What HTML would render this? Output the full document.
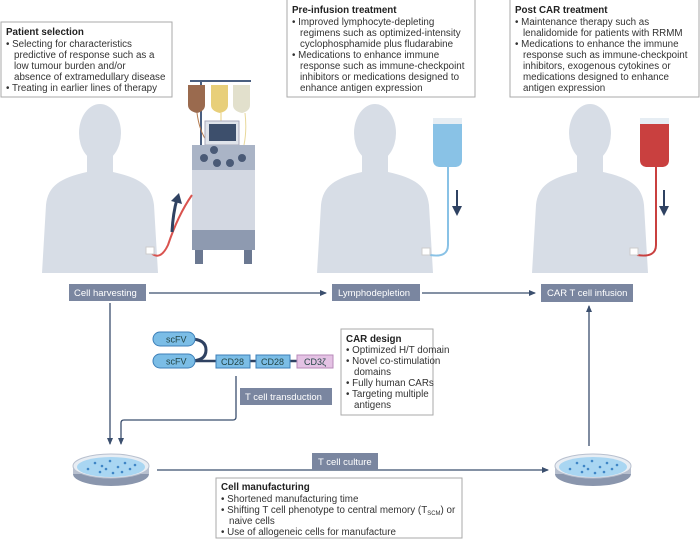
<!DOCTYPE html>
<html><head><meta charset="utf-8"><style>
html,body{margin:0;padding:0;background:#fff;}
svg{display:block;font-family:"Liberation Sans",sans-serif;}
.t{font-size:9.8px;fill:#333;}
.b{font-size:9.8px;font-weight:bold;fill:#222;}
.lbl{font-size:9.5px;fill:#fff;}
</style></head><body>
<svg width="700" height="539" viewBox="0 0 700 539" xmlns="http://www.w3.org/2000/svg">
<defs>
<marker id="ah" markerWidth="8" markerHeight="8" refX="6" refY="3" orient="auto" markerUnits="userSpaceOnUse"><path d="M0,0 L7,3 L0,6 Z" fill="#3b4f6e"/></marker>
<g id="person">
<ellipse cx="0" cy="133" rx="21" ry="29" fill="#d7dde6"/>
<path d="M-13 155 L-13 172 C-40 178 -52 186 -54 205 L-58 273 L58 273 L54 205 C52 186 40 178 13 172 L13 155 Z" fill="#d7dde6"/>
</g>
</defs>
<use href="#person" x="100" y="0"/>
<use href="#person" x="375" y="0"/>
<use href="#person" x="590" y="0"/>

<rect x="1" y="22" width="171" height="75" fill="#fff" stroke="#aaa"/>
<text class="b" x="6" y="35">Patient selection</text>
<text class="t" x="6" y="47">• Selecting for characteristics</text>
<text class="t" x="14" y="58">predictive of response such as a</text>
<text class="t" x="14" y="69">low tumour burden and/or</text>
<text class="t" x="14" y="80">absence of extramedullary disease</text>
<text class="t" x="6" y="91">• Treating in earlier lines of therapy</text>

<rect x="287" y="-1" width="188" height="98" fill="#fff" stroke="#aaa"/>
<text class="b" x="292" y="13">Pre-infusion treatment</text>
<text class="t" x="292" y="25">• Improved lymphocyte-depleting</text>
<text class="t" x="300" y="36">regimens such as optimized-intensity</text>
<text class="t" x="300" y="47">cyclophosphamide plus fludarabine</text>
<text class="t" x="292" y="58">• Medications to enhance immune</text>
<text class="t" x="300" y="69">response such as immune-checkpoint</text>
<text class="t" x="300" y="80">inhibitors or medications designed to</text>
<text class="t" x="300" y="91">enhance antigen expression</text>

<rect x="510" y="-1" width="189" height="98" fill="#fff" stroke="#aaa"/>
<text class="b" x="515" y="13">Post CAR treatment</text>
<text class="t" x="515" y="25">• Maintenance therapy such as</text>
<text class="t" x="523" y="36">lenalidomide for patients with RRMM</text>
<text class="t" x="515" y="47">• Medications to enhance the immune</text>
<text class="t" x="523" y="58">response such as immune-checkpoint</text>
<text class="t" x="523" y="69">inhibitors, exogenous cytokines or</text>
<text class="t" x="523" y="80">medications designed to enhance</text>
<text class="t" x="523" y="91">antigen expression</text>

<line x1="190" y1="81" x2="251" y2="81" stroke="#4a5f80" stroke-width="2"/>
<line x1="201" y1="81" x2="201" y2="150" stroke="#4a5f80" stroke-width="2"/>
<path d="M188 85 h17 v20 q0 6 -8 8 q-9 -2 -9 -8 z" fill="#9a6a4e"/>
<path d="M211 85 h17 v20 q0 6 -8 8 q-9 -2 -9 -8 z" fill="#e8cf7a"/>
<path d="M233 85 h17 v20 q0 6 -8 8 q-9 -2 -9 -8 z" fill="#e2e0cc"/>
<path d="M197 113 Q200 135 210 145" stroke="#b57b50" fill="none"/>
<line x1="221" y1="113" x2="221" y2="122" stroke="#e8cf7a"/>
<path d="M245 113 Q247 130 244 145" stroke="#e8d89a" fill="none"/>
<rect x="205" y="121" width="34" height="24" fill="#dfe3ea" stroke="#aab"/>
<rect x="209" y="124" width="27" height="17" fill="#3d4f6c"/>
<rect x="192" y="145" width="63" height="25" fill="#aab4c6"/>
<circle cx="214" cy="150" r="4" fill="#4a5a76"/>
<circle cx="204" cy="158" r="4" fill="#4a5a76"/>
<circle cx="217" cy="163" r="4" fill="#4a5a76"/>
<circle cx="230" cy="163" r="4" fill="#4a5a76"/>
<circle cx="242" cy="158" r="4" fill="#4a5a76"/>
<rect x="192" y="170" width="63" height="60" fill="#d3d8e2"/>
<rect x="192" y="230" width="63" height="20" fill="#8e9ab0"/>
<rect x="195" y="250" width="8" height="14" fill="#6b7891"/>
<rect x="244" y="250" width="8" height="14" fill="#6b7891"/>
<path d="M150 252 Q160 262 168 245 Q178 215 192 195" stroke="#d9534f" stroke-width="2" fill="none"/>
<path d="M172 232 Q173 213 177 199" stroke="#2f4262" stroke-width="3" fill="none"/>
<path d="M171 201 L179 193 L182 204 Z" fill="#2f4262"/>
<rect x="146" y="247" width="8" height="7" fill="#fff" stroke="#ccc"/>

<path d="M433 120 h29 v40 q0 6 -6 7 h-17 q-6 -1 -6 -7 z" fill="#89c2e6"/>
<rect x="433" y="118" width="29" height="6" fill="#e6edf3"/>
<path d="M448 167 L448 245 Q448 258 430 255" stroke="#89c2e6" stroke-width="2" fill="none"/>
<line x1="457" y1="190" x2="457" y2="208" stroke="#2f4262" stroke-width="2"/>
<path d="M452 206 L462 206 L457 216 Z" fill="#2f4262"/>
<rect x="422" y="248" width="8" height="7" fill="#fff" stroke="#ccc"/>
<path d="M640 120 h29 v40 q0 6 -6 7 h-17 q-6 -1 -6 -7 z" fill="#c9403f"/>
<rect x="640" y="118" width="29" height="6" fill="#e6edf3"/>
<path d="M656 167 L656 245 Q656 258 637 255" stroke="#c9403f" stroke-width="2" fill="none"/>
<line x1="664" y1="190" x2="664" y2="208" stroke="#2f4262" stroke-width="2"/>
<path d="M659 206 L669 206 L664 216 Z" fill="#2f4262"/>
<rect x="630" y="248" width="8" height="7" fill="#fff" stroke="#ccc"/>

<rect x="69" y="284" width="77" height="17" fill="#7a86a0"/>
<text class="lbl" x="74" y="296">Cell harvesting</text>
<rect x="332" y="284" width="88" height="17" fill="#7a86a0"/>
<text class="lbl" x="338" y="296">Lymphodepletion</text>
<rect x="541" y="284" width="92" height="18" fill="#7a86a0"/>
<text class="lbl" x="547" y="296">CAR T cell infusion</text>

<line x1="149" y1="293" x2="326" y2="293" stroke="#3b4f6e" stroke-width="1.3" marker-end="url(#ah)"/>
<line x1="422" y1="293" x2="535" y2="293" stroke="#3b4f6e" stroke-width="1.3" marker-end="url(#ah)"/>
<line x1="110" y1="303" x2="110" y2="444" stroke="#3b4f6e" stroke-width="1.3" marker-end="url(#ah)"/>
<path d="M236 376 L236 417 Q236 420 233 420 L124 420 Q121 420 121 423 L121 444" stroke="#3b4f6e" stroke-width="1.3" fill="none" marker-end="url(#ah)"/>
<line x1="589" y1="446" x2="589" y2="306" stroke="#3b4f6e" stroke-width="1.3" marker-end="url(#ah)"/>
<line x1="157" y1="470" x2="548" y2="470" stroke="#3b4f6e" stroke-width="1.3" marker-end="url(#ah)"/>

<path d="M190 339 Q206 339 206 350 Q206 361 190 361" stroke="#2f4262" stroke-width="3" fill="none"/>
<line x1="195" y1="361" x2="216" y2="361" stroke="#2f4262" stroke-width="2.5"/>
<line x1="250" y1="361" x2="256" y2="361" stroke="#2f4262" stroke-width="2.5"/>
<line x1="290" y1="361" x2="297" y2="361" stroke="#2f4262" stroke-width="2.5"/>
<rect x="153" y="332" width="42" height="14" rx="7" fill="#7bbde6" stroke="#3d7fb8"/>
<text x="166" y="342.5" font-size="9" fill="#244">scFV</text>
<rect x="153" y="354" width="42" height="14" rx="7" fill="#7bbde6" stroke="#3d7fb8"/>
<text x="166" y="364.5" font-size="9" fill="#244">scFV</text>
<rect x="216" y="355" width="34" height="13" fill="#7bbde6" stroke="#3d7fb8"/>
<text x="221" y="365" font-size="9" fill="#244">CD28</text>
<rect x="256" y="355" width="34" height="13" fill="#7bbde6" stroke="#3d7fb8"/>
<text x="261" y="365" font-size="9" fill="#244">CD28</text>
<rect x="297" y="355" width="36" height="13" fill="#e4c2e4" stroke="#b78ab8"/>
<text x="304" y="365" font-size="9" fill="#244">CD3ζ</text>

<rect x="240" y="388" width="92" height="17" fill="#7a86a0"/>
<text class="lbl" x="245" y="400">T cell transduction</text>

<rect x="341" y="329" width="92" height="86" fill="#fff" stroke="#aaa"/>
<text class="b" x="346" y="342">CAR design</text>
<text class="t" x="346" y="353">• Optimized H/T domain</text>
<text class="t" x="346" y="364">• Novel co-stimulation</text>
<text class="t" x="354" y="375">domains</text>
<text class="t" x="346" y="386">• Fully human CARs</text>
<text class="t" x="346" y="397">• Targeting multiple</text>
<text class="t" x="354" y="408">antigens</text>

<rect x="312" y="453" width="66" height="17" fill="#7a86a0"/>
<text class="lbl" x="318" y="465">T cell culture</text>

<rect x="216" y="478" width="246" height="60" fill="#fff" stroke="#aaa"/>
<text class="b" x="221" y="490">Cell manufacturing</text>
<text class="t" x="221" y="502">• Shortened manufacturing time</text>
<text class="t" x="221" y="513">• Shifting T cell phenotype to central memory (T<tspan font-size="6" dy="2">SCM</tspan><tspan dy="-2">) or</tspan></text>
<text class="t" x="229" y="524">naive cells</text>
<text class="t" x="221" y="535">• Use of allogeneic cells for manufacture</text>

<g id="dish">
<ellipse cx="111" cy="474" rx="38" ry="12" fill="#8a96ad"/>
<rect x="73" y="466" width="76" height="8" fill="#b8c0cf"/>
<ellipse cx="111" cy="466" rx="38" ry="12" fill="#e8edf3" stroke="#b8c0cf"/>
<ellipse cx="111" cy="467" rx="34" ry="10" fill="#a9d6f2"/>
<g fill="#3f86c6">
<circle cx="95" cy="463" r="1.3"/><circle cx="102" cy="466" r="1.3"/><circle cx="110" cy="461" r="1.3"/>
<circle cx="118" cy="467" r="1.3"/><circle cx="125" cy="463" r="1.3"/><circle cx="130" cy="469" r="1.3"/>
<circle cx="88" cy="469" r="1.3"/><circle cx="100" cy="472" r="1.3"/><circle cx="113" cy="473" r="1.3"/>
<circle cx="122" cy="472" r="1.3"/><circle cx="106" cy="469" r="1.3"/><circle cx="135" cy="465" r="1.3"/>
</g>
</g>
<use href="#dish" x="482" y="0"/>
</svg>
</body></html>
